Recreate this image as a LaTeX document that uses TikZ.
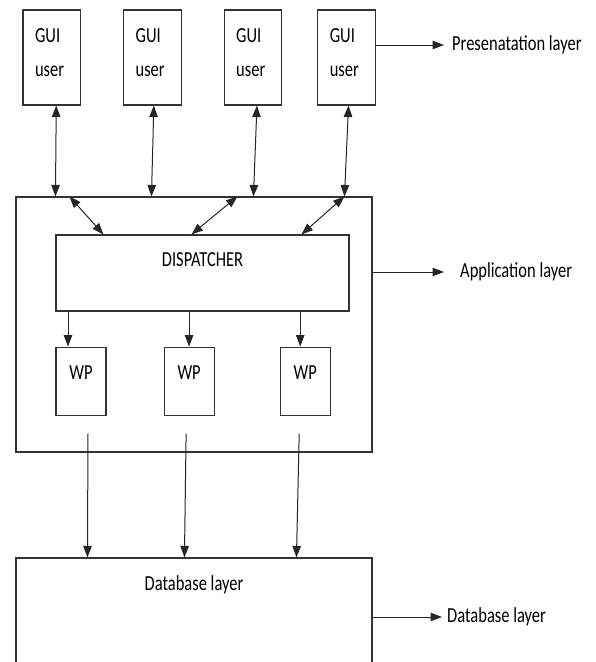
\documentclass[tikz,border=0pt]{standalone}
\usepackage{fontspec}
\setmainfont{Carlito}
\usepackage{graphicx}
\usetikzlibrary{arrows.meta, positioning}
% the labels of this sketch are set a little taller than wide
\newcommand{\tall}[1]{\scalebox{1}[1.3]{#1}}
\tikzset{
  box/.style={draw=black!80, line width=1.1pt, inner sep=0pt,
              font=\fontsize{16.5}{20}\selectfont},
  arr/.style={->, line width=1pt, color=black!85},
  link/.style={<->, line width=1pt, color=black!85}
}

\begin{document}
\begin{tikzpicture}[
  x=1pt, y=-1pt,
  >={Triangle[length=11.5pt,width=8.5pt]},
  gui/.style={box, minimum width=57.5pt, minimum height=95pt,
              text width=33.5pt, inner xsep=12pt, align=left, text depth=43pt},
  wp/.style={box, minimum width=50pt, minimum height=68pt, text depth=16pt},
  frame/.style={box, minimum width=356pt},
  note/.style={inner sep=0pt, anchor=west, font=\fontsize{16.5}{20}\selectfont}
]
  \useasboundingbox (0,0) rectangle (595,662);
  \clip (0,0) rectangle (595,662);

  % presentation layer
  \node[gui] (g1) at (51.75,57.5) {\tall{GUI}\\[14pt]\tall{user}};
  \node[gui,right=42pt of g1] (g2) {\tall{GUI}\\[14pt]\tall{user}};
  \node[gui,right=42pt of g2] (g3) {\tall{GUI}\\[14pt]\tall{user}};
  \node[gui,right=35pt of g3] (g4) {\tall{GUI}\\[14pt]\tall{user}};

  % application layer
  \node[frame,minimum height=255pt] (app) at (194,324.5) {};
  \node[box,minimum width=293pt,minimum height=76pt,text depth=26pt]
    (disp) at (202.5,273) {\tall{DISPATCHER}};
  \node[wp,below=35pt of disp.south west,anchor=north west] (wp1) {\tall{WP}};
  \node[wp,right=57pt of wp1] (wp2) {\tall{WP}};
  \node[wp,right=65pt of wp2] (wp3) {\tall{WP}};

  % database layer (runs off the bottom)
  \node[frame,minimum height=120pt,text depth=70pt] (db) at (194,618)
    {\tall{Database layer}};

  \node[note] (lpres) at (452,45)  {\tall{Presenatation layer}};
  \node[note] (lapp)  at (460,272) {\tall{Application layer}};
  \node[note] (ldb)   at (447,617) {\tall{Database layer}};

  % users <-> application
  \draw[link]([xshift=4.5pt]g1.south) -- ([xshift=40pt]app.north west);
  \draw[link]([xshift=1.5pt]g2.south) -- ([xshift=136pt]app.north west);
  \draw[link]([xshift=4pt]g3.south)   -- ([xshift=238pt]app.north west);
  \draw[link]([xshift=2pt]g4.south)   -- ([xshift=329pt]app.north west);
  \draw[link]([xshift=54pt]app.north west)  -- ([xshift=48pt]disp.north west);
  \draw[link]([xshift=222pt]app.north west) -- ([xshift=136pt]disp.north west);
  \draw[link]([xshift=329pt]app.north west) -- ([xshift=246pt]disp.north west);

  % dispatcher -> work processes -> database
  \draw[arr]([xshift=-13pt,yshift=35pt]wp1.north) -- ([xshift=-13pt]wp1.north);
  \draw[arr]([yshift=35pt]wp2.north) -- (wp2.north);
  \draw[arr]([xshift=-5pt,yshift=35pt]wp3.north) -- ([xshift=-5pt]wp3.north);
  \draw[arr]([xshift=7pt,yshift=-18pt]wp1.south)  -- ([xshift=72pt]db.north west);
  \draw[arr]([xshift=-3pt,yshift=-18pt]wp2.south) -- ([xshift=169pt]db.north west);
  \draw[arr]([xshift=-6pt,yshift=-18pt]wp3.south) -- ([xshift=281pt]db.north west);

  % layer labels
  \draw[arr](g4.east |- lpres.west) -- ([xshift=-8pt]lpres.west);
  \draw[arr](app.east |- lapp.west) -- ([xshift=-16pt]lapp.west);
  \draw[arr](db.east |- ldb.west)   -- ([xshift=-5pt]ldb.west);
\end{tikzpicture}
\end{document}
